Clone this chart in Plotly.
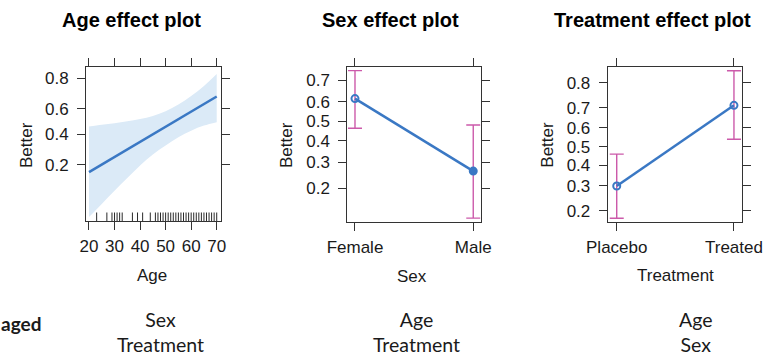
import numpy as np
import plotly.graph_objects as go

# ---- data -------------------------------------------------------------
age_grid = [20, 25, 30, 35, 40, 45, 50, 55, 60, 65, 70]
age_fit = [0.166, 0.202, 0.244, 0.291, 0.343, 0.400, 0.459, 0.520, 0.580, 0.637, 0.691]
age_lower = [0.045, 0.067, 0.099, 0.141, 0.197, 0.259, 0.317, 0.378, 0.428, 0.468, 0.495]
age_upper = [0.460, 0.474, 0.487, 0.503, 0.521, 0.545, 0.582, 0.633, 0.694, 0.758, 0.821]
age_rug = [23, 27, 29, 30, 31, 32, 33, 37, 39, 41, 44, 46, 47, 48, 49, 50, 51, 52,
           53, 54, 55, 56, 57, 58, 59, 60, 61, 62, 63, 64, 65, 66, 67, 68, 69, 70]

sex_levels = ["Female", "Male"]
sex_fit = [0.615, 0.263]
sex_lower = [0.464, 0.119]
sex_upper = [0.740, 0.481]

trt_levels = ["Placebo", "Treated"]
trt_fit = [0.299, 0.710]
trt_lower = [0.175, 0.540]
trt_upper = [0.460, 0.838]

age_ticks = [20, 30, 40, 50, 60, 70]
age_prob_ticks = [0.2, 0.4, 0.6, 0.8]
sex_prob_ticks = [0.2, 0.3, 0.4, 0.5, 0.6, 0.7]
trt_prob_ticks = [0.2, 0.3, 0.4, 0.5, 0.6, 0.7, 0.8]

# variables averaged over in each panel
averaged_age = ["Sex", "Treatment"]
averaged_sex = ["Age", "Treatment"]
averaged_trt = ["Age", "Sex"]

# ---- style ------------------------------------------------------------
W, H = 772, 357
LINE = "#3A78C4"
BAND = "#DBEAF7"
ERR = "#CC5AAA"
FRAME = "#333333"
FONT = "Liberation Sans, Arial, sans-serif"
NOTE_FONT = "Lato, Open Sans, sans-serif"


def logit(p):
    p = np.asarray(p, dtype=float)
    return np.log(p / (1 - p))


def px(x):
    return x / W


def py(y):
    return 1 - y / H


fig = go.Figure()

# Age panel: confidence band, fitted line, rug
fig.add_trace(go.Scatter(x=age_grid, y=logit(age_upper), mode="lines",
                         line=dict(width=0, shape="spline"), hoverinfo="skip",
                         showlegend=False, xaxis="x", yaxis="y"))
fig.add_trace(go.Scatter(x=age_grid, y=logit(age_lower), mode="lines",
                         line=dict(width=0, shape="spline"), fill="tonexty",
                         fillcolor=BAND, hoverinfo="skip", showlegend=False,
                         xaxis="x", yaxis="y"))
fig.add_trace(go.Scatter(x=age_grid, y=logit(age_fit), mode="lines",
                         line=dict(color=LINE, width=2.5), showlegend=False,
                         xaxis="x", yaxis="y"))
for a in age_rug:
    fig.add_shape(type="line", xref="x", yref="y domain", x0=a, x1=a, y0=0, y1=0.055,
                  line=dict(color="#2a2a2a", width=1))


def factor_trace(fit, lower, upper, symbols, xa, ya):
    f = logit(fit)
    return go.Scatter(
        x=[1, 2], y=f, mode="lines+markers",
        line=dict(color=LINE, width=2.5),
        marker=dict(color=LINE, size=7, symbol=symbols, line=dict(color=LINE, width=2)),
        error_y=dict(type="data", symmetric=False,
                     array=logit(upper) - f, arrayminus=f - logit(lower),
                     color=ERR, thickness=1.4, width=7),
        showlegend=False, xaxis=xa, yaxis=ya)


fig.add_trace(factor_trace(sex_fit, sex_lower, sex_upper,
                           ["circle-open", "circle"], "x2", "y2"))
fig.add_trace(factor_trace(trt_fit, trt_lower, trt_upper,
                           ["circle-open", "circle-open"], "x3", "y3"))

axis_common = dict(showline=True, mirror="allticks", linecolor=FRAME, linewidth=1,
                   ticks="outside", ticklen=8, tickcolor=FRAME, tickwidth=1,
                   showgrid=False, zeroline=False, automargin=False,
                   tickfont=dict(family=FONT, size=17, color="#1a1a1a"))
x_common = dict(axis_common, ticklabelstandoff=2)
y_common = dict(axis_common, ticklabelstandoff=5)

fig.update_layout(
    width=W, height=H, margin=dict(l=0, r=0, t=0, b=0, autoexpand=False),
    paper_bgcolor="white", plot_bgcolor="white",
    xaxis=dict(domain=[px(86), px(221)], range=[18.83, 71.68],
               tickvals=age_ticks, ticktext=[str(t) for t in age_ticks], **x_common),
    yaxis=dict(domain=[py(221), py(66.7)], range=[-3.18, 1.757],
               tickvals=logit(age_prob_ticks), ticktext=[f"{t:.1f}" for t in age_prob_ticks],
               **y_common),
    xaxis2=dict(domain=[px(347.3), px(480.7)], range=[0.935, 2.063],
                tickvals=[1, 2], ticktext=sex_levels, anchor="y2", **x_common),
    yaxis2=dict(domain=[py(221.7), py(66.7)], range=[-2.076, 1.128], anchor="x2",
                tickvals=logit(sex_prob_ticks), ticktext=[f"{t:.1f}" for t in sex_prob_ticks],
                **y_common),
    xaxis3=dict(domain=[px(607.7), px(741.7)], range=[0.923, 2.066],
                tickvals=[1, 2], ticktext=trt_levels, anchor="y3", **x_common),
    yaxis3=dict(domain=[py(221.7), py(66.7)], range=[-1.624, 1.732], anchor="x3",
                tickvals=logit(trt_prob_ticks), ticktext=[f"{t:.1f}" for t in trt_prob_ticks],
                **y_common),
)


def note(text, x, y, size=17, bold=False, angle=0, family=FONT, color="#1a1a1a",
         xanchor="center", yanchor="middle"):
    fig.add_annotation(text=f"<b>{text}</b>" if bold else text,
                       x=px(x), y=py(y), xref="paper", yref="paper",
                       xanchor=xanchor, yanchor=yanchor, showarrow=False, borderpad=0,
                       textangle=angle, font=dict(family=family, size=size, color=color))


# panel titles
note("Age effect plot", 131, 19.5, size=20, bold=True, color="#000000")
note("Sex effect plot", 390.5, 19.5, size=20, bold=True, color="#000000")
note("Treatment effect plot", 652.7, 19.5, size=20, bold=True, color="#000000")

# axis titles
for xb in (26, 286, 546.7):
    note("Better", xb, 145, angle=-90)
note("Age", 152, 275)
note("Sex", 412, 276)
note("Treatment", 675, 275)

# averaged-over variables under each panel
note("aged", 0, 323, size=19, bold=True, family=NOTE_FONT, xanchor="left")
for names, xc in ((averaged_age, 160), (averaged_sex, 416), (averaged_trt, 695)):
    note("<br>".join(names), xc, 357, size=19.5, family=NOTE_FONT, yanchor="bottom")

fig.write_html("out.html")
